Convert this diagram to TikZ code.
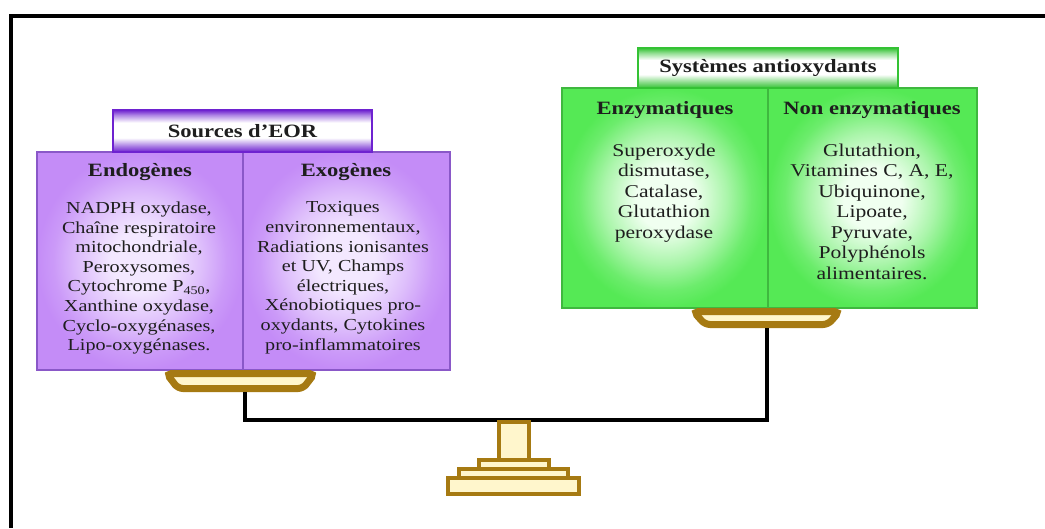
\documentclass[tikz,border=0pt]{standalone}
\usepackage{fontspec}
\setmainfont{Liberation Serif}[FakeStretch=1.2]
\usetikzlibrary{calc}

\definecolor{ink}{HTML}{1E1E1E}
\definecolor{violetedge}{HTML}{C48CF7}
\definecolor{violetcore}{HTML}{F3E8FF}
\definecolor{violetline}{HTML}{8A58C8}
\definecolor{violetdark}{HTML}{6E22D0}
\definecolor{greenedge}{HTML}{55E955}
\definecolor{greencore}{HTML}{F0FFF0}
\definecolor{greenline}{HTML}{3FB83F}
\definecolor{greendark}{HTML}{34C234}
\definecolor{gold}{HTML}{A67A12}
\definecolor{cream}{HTML}{FFF6CC}

% soft glow inside the column boxes (the box edges sit at 25bp)
\pgfdeclareradialshading{violetglow}{\pgfpoint{0bp}{0bp}}{%
  color(0bp)=(violetcore); color(7bp)=(violetcore);
  color(15bp)=(violetedge!45!violetcore); color(21bp)=(violetedge!85!violetcore);
  color(25bp)=(violetedge); color(50bp)=(violetedge)}
\pgfdeclareradialshading{greenglow}{\pgfpoint{0bp}{0bp}}{%
  color(0bp)=(greencore); color(7bp)=(greencore);
  color(15bp)=(greenedge!45!greencore); color(21bp)=(greenedge!85!greencore);
  color(25bp)=(greenedge); color(50bp)=(greenedge)}
% coloured bands at top and bottom of the title boxes (box spans 25bp--75bp)
\pgfdeclareverticalshading{violetband}{100bp}{%
  color(0bp)=(violetdark); color(25bp)=(violetdark);
  color(32bp)=(violetdark!60!white); color(42bp)=(white);
  color(60bp)=(white); color(69bp)=(violetdark!55!white);
  color(75bp)=(violetdark); color(100bp)=(violetdark)}
\pgfdeclareverticalshading{greenband}{100bp}{%
  color(0bp)=(greendark); color(25bp)=(greendark);
  color(32bp)=(greendark!60!white); color(42bp)=(white);
  color(60bp)=(white); color(69bp)=(greendark!55!white);
  color(75bp)=(greendark); color(100bp)=(greendark)}

\tikzset{
  col/.style={draw, line width=1.2pt, inner sep=0pt, outer sep=0pt, anchor=north west},
  vcol/.style={col, draw=violetline, shading=violetglow},
  gcol/.style={col, draw=greenline, shading=greenglow},
  title/.style={draw, line width=1.2pt, inner sep=0pt, outer sep=0pt, text=ink,
    font=\bfseries\fontsize{18.8}{21}\selectfont},
  vtitle/.style={title, draw=violetdark, shading=violetband},
  gtitle/.style={title, draw=greendark, shading=greenband},
  colhead/.style={font=\bfseries\fontsize{18.8}{22}\selectfont, text=ink, anchor=base, inner sep=0pt},
  vbody/.style={font=\fontsize{16.8}{19.6}\selectfont, text=ink, align=center, anchor=north, inner sep=0pt},
  gbody/.style={font=\fontsize{18}{20.5}\selectfont, text=ink, align=center, anchor=north, inner sep=0pt},
  pan/.style={draw=gold, fill=cream, line width=7pt, rounded corners=5pt},
  standpart/.style={draw=gold, fill=cream, line width=4pt},
  beam/.style={draw=black, line width=4pt, line join=miter},
  frame/.style={draw=black, line width=4.5pt, line join=miter}
}

\begin{document}
\begin{tikzpicture}[x=1pt, y=-1pt]
\useasboundingbox[fill=white] (0,0) rectangle (1045,528);

% outer frame
\draw[frame] (11,528) |- (1045,16);

% ---- sources of reactive oxygen species ----
\node[vcol, minimum width=206pt, minimum height=218pt] (endo) at (37,152) {};
\node[vcol, minimum width=207pt, minimum height=218pt] (exo) at (243,152) {};
\node[vtitle, minimum width=259pt, minimum height=42pt] (sources) at (242.5,131) {Sources d’EOR};

\node[colhead] (endohead) at (140,176) {Endogènes};
\node[colhead] (exohead) at (346,176) {Exogènes};
\node[vbody] (endobody) at (139,201.6) {NADPH oxydase,\\ Chaîne respiratoire\\ mitochondriale,\\ Peroxysomes,\\ Cytochrome P\textsubscript{450},\\ Xanthine oxydase,\\ Cyclo-oxygénases,\\ Lipo-oxygénases.};
\node[vbody] (exobody) at (343,201.6) {Toxiques\\ environnementaux,\\ Radiations ionisantes\\ et UV, Champs\\ électriques,\\ Xénobiotiques pro-\\ oxydants, Cytokines\\ pro-inflammatoires};

% ---- antioxidant systems ----
\node[gcol, minimum width=206pt, minimum height=220pt] (enz) at (562,88) {};
\node[gcol, minimum width=209pt, minimum height=220pt] (nonenz) at (768,88) {};
\node[gtitle, minimum width=260pt, minimum height=40pt] (anti) at (768,68) {Systèmes antioxydants};

\node[colhead] (enzhead) at (665,114) {Enzymatiques};
\node[colhead] (nonenzhead) at (872,114) {Non enzymatiques};
\node[gbody] (enzbody) at (664,143.7) {Superoxyde\\ dismutase,\\ Catalase,\\ Glutathion\\ peroxydase};
\node[gbody] (nonenzbody) at (872,143.7) {Glutathion,\\ Vitamines C, A, E,\\ Ubiquinone,\\ Lipoate,\\ Pyruvate,\\ Polyphénols\\ alimentaires.};

% ---- balance pans ----
\draw[pan] (166.5,373.5) -- (314.5,373.5) -- (303,388.5) -- (178,388.5) -- cycle;
\draw[pan] (693.5,311.5) -- (839.5,311.5) -- (828,324.5) -- (705,324.5) -- cycle;
\coordinate (lpan) at (245,392);
\coordinate (rpan) at (767,328);
\coordinate (pivot) at (514,420);

% beam
\draw[beam] (lpan) |- (pivot) -| (rpan);

% stand
\draw[standpart] (448,478) rectangle (579,494);
\draw[standpart] (459,469) rectangle (568,478);
\draw[standpart] (479,460) rectangle (549,469);
\draw[standpart] (499,422) rectangle (529,460);
\end{tikzpicture}
\end{document}
